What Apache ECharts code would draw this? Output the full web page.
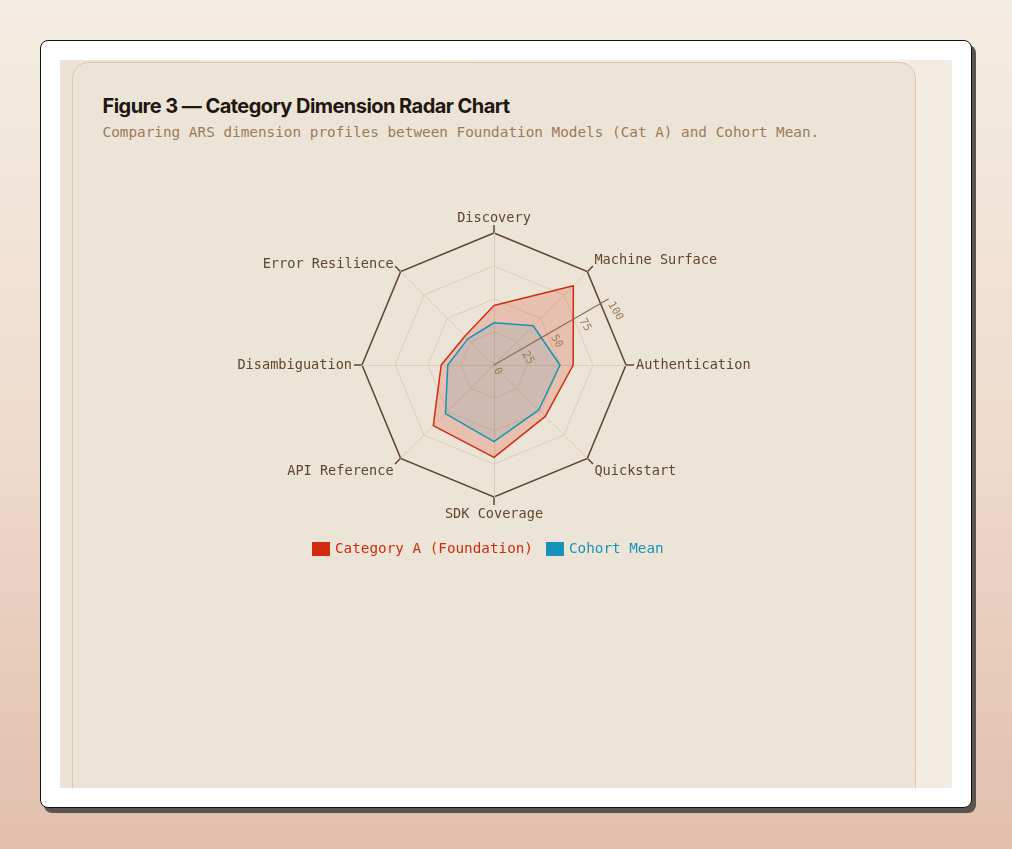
<!DOCTYPE html>
<html>
<head>
<meta charset="utf-8">
<script src="https://cdn.jsdelivr.net/npm/echarts@6/dist/echarts.min.js"></script>
<style>
  html, body { margin: 0; padding: 0; }
  body {
    width: 1012px; height: 849px; overflow: hidden; position: relative;
    background: linear-gradient(180deg, #f4ede3 0%, #efdccd 50%, #e1bfad 100%);
  }
  .frame {
    position: absolute; left: 40px; top: 40px; width: 932px; height: 768px;
    box-sizing: border-box; background: #fff; border: 1.5px solid #151210;
    border-radius: 8px; box-shadow: 4px 5px 0 #5a5450;
  }
  .viewport {
    position: absolute; left: 18.5px; top: 18.5px; width: 892px; height: 728px;
    overflow: hidden; background: linear-gradient(90deg, #ece2d6 0%, #f0e8dd 50%, #f4ece2 100%);
  }
  .card {
    position: absolute; left: 12px; top: 2px; width: 844px; height: 900px;
    box-sizing: border-box; background: #ede4d8; border: 1px solid #e6c4ae;
    border-radius: 16px;
  }
  .title {
    position: absolute; left: 30px; top: 31px; margin: 0;
    font-family: Inter, "Noto Sans", sans-serif; font-weight: 700; font-size: 20px;
    line-height: 24px; letter-spacing: -0.55px; color: #1f1710; white-space: nowrap;
  }
  .sub {
    position: absolute; left: 30px; top: 60px; margin: 0;
    font-family: "DejaVu Sans Mono", monospace; font-size: 14.35px; line-height: 18px;
    color: #9b7b56; white-space: nowrap;
  }
  #chart { position: absolute; left: 0; top: 0; width: 842px; height: 620px; }
</style>
</head>
<body>
<div class="frame">
  <div class="viewport">
    <div class="card">
      <h2 class="title">Figure 3 — Category Dimension Radar Chart</h2>
      <p class="sub">Comparing ARS dimension profiles between Foundation Models (Cat A) and Cohort Mean.</p>
      <div id="chart"></div>
    </div>
  </div>
</div>
<script>
// dimensions, counter-clockwise from the top (ECharts radar order)
const dimensions = ["Discovery", "Error Resilience", "Disambiguation", "API Reference",
  "SDK Coverage", "Quickstart", "Authentication", "Machine Surface"];
const categoryA = [45, 31, 40, 65, 70, 55, 60, 85];
const cohortMean = [32, 28, 35, 52, 58, 48, 50, 42];
const seriesNames = ["Category A (Foundation)", "Cohort Mean"];
const scaleMax = 100;
const scaleStep = 25;

const mono = "DejaVu Sans Mono";
const red = "#d12c0f";
const blue = "#1593b8";
const dark = "#5e4630";
const light = "#dccdb6";
const center = [421, 302];
const radius = 132;

// small nudges so the names sit like the original
const nameStyle = {
  "Discovery": "dn2",
  "Machine Surface": "up",
  "Quickstart": "dn",
  "API Reference": "dn"
};

const chart = echarts.init(document.getElementById("chart"));

const indicators = dimensions.map(name => ({ name: name, max: scaleMax }));

const option = {
  animation: false,
  radar: [
    {
      center: center,
      radius: radius,
      startAngle: 90,
      shape: "polygon",
      splitNumber: scaleMax / scaleStep,
      indicator: indicators,
      nameGap: 10,
      axisName: {
        color: dark, fontFamily: mono, fontSize: 13.6,
        formatter: name => nameStyle[name] ? "{" + nameStyle[name] + "|" + name + "}" : name,
        rich: {
          up: { color: dark, fontFamily: mono, fontSize: 13.6, padding: [0, 0, 9, 0] },
          dn: { color: dark, fontFamily: mono, fontSize: 13.6, padding: [13, 0, 0, 0] },
          dn2: { color: dark, fontFamily: mono, fontSize: 13.6, padding: [0, 0, -2, 0] }
        }
      },
      axisLine: { lineStyle: { color: light, width: 1 } },
      splitLine: { lineStyle: { color: light, width: 1 } },
      splitArea: { show: false }
    },
    {
      center: center,
      radius: radius,
      startAngle: 90,
      shape: "polygon",
      splitNumber: 1,
      indicator: indicators,
      axisName: { show: false },
      axisLine: { show: false },
      splitLine: { lineStyle: { color: dark, width: 1.5 } },
      splitArea: { show: false }
    }
  ],
  polar: [
    { center: center, radius: radius },
    { center: center, radius: radius }
  ],
  angleAxis: [
    { polarIndex: 0, startAngle: 30, show: false, type: "value", min: 0, max: 360 },
    {
      polarIndex: 1, type: "value", min: 0, max: 360, interval: 45, startAngle: 90,
      axisLine: { show: false },
      axisTick: { show: true, length: 8, lineStyle: { color: dark, width: 1.5 } },
      axisLabel: { show: false },
      splitLine: { show: false }
    }
  ],
  radiusAxis: [
    {
      polarIndex: 0, type: "value", min: 0, max: scaleMax, interval: scaleStep, z: 10,
      axisLine: { show: true, lineStyle: { color: "#8c6c48", width: 1.2 } },
      axisTick: { show: false },
      splitLine: { show: false },
      axisLabel: {
        rotate: -60, margin: -4, align: "left", verticalAlign: "middle",
        color: "#9b7b56", fontFamily: mono, fontSize: 11
      }
    },
    { polarIndex: 1, show: false, min: 0, max: scaleMax }
  ],
  legend: {
    left: 234,
    top: 474,
    itemWidth: 18,
    itemHeight: 14,
    itemGap: 13,
    icon: "rect",
    textStyle: { fontFamily: mono, fontSize: 14.3 },
    data: [
      { name: seriesNames[0], textStyle: { color: red } },
      { name: seriesNames[1], textStyle: { color: blue } }
    ]
  },
  series: [
    {
      type: "radar",
      radarIndex: 0,
      symbol: "none",
      data: [
        {
          name: seriesNames[0],
          value: categoryA,
          itemStyle: { color: red },
          lineStyle: { color: red, width: 1.5 },
          areaStyle: { color: "rgba(209,44,15,0.28)" }
        },
        {
          name: seriesNames[1],
          value: cohortMean,
          itemStyle: { color: blue },
          lineStyle: { color: blue, width: 1.5 },
          areaStyle: { color: "rgba(21,147,184,0.16)" }
        }
      ]
    }
  ]
};

chart.setOption(option);
</script>
</body>
</html>
